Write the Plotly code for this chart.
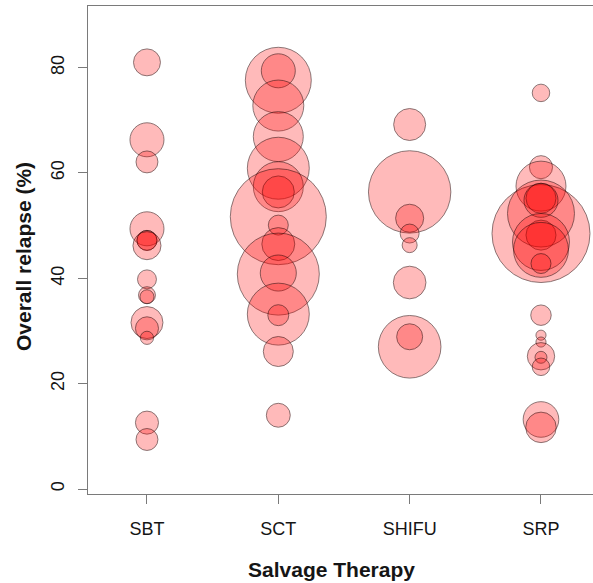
import plotly.graph_objects as go

categories = ["SBT", "SCT", "SHIFU", "SRP"]

sbt_relapse = [81.0, 66.3, 62.1, 49.4, 47.2, 47.2, 46.2, 39.8, 36.8, 36.5, 31.6, 30.5, 28.7, 12.6, 9.4]
sbt_n = [71, 113, 47, 113, 39, 39, 77, 35, 28, 19, 100, 52, 17, 52, 47]

sct_relapse = [77.6, 79.4, 72.8, 66.9, 60.9, 57.4, 56.4, 51.7, 50.1, 46.5, 40.8, 41.0, 33.2, 33.0, 26.1, 14.0]
sct_n = [425, 113, 254, 244, 375, 244, 100, 900, 39, 106, 657, 127, 375, 43, 88, 56]

shifu_relapse = [69.2, 56.4, 51.4, 48.5, 46.3, 39.2, 27.0, 28.9]
shifu_n = [100, 663, 77, 35, 22, 104, 383, 66]

srp_relapse = [75.2, 61.1, 57.5, 48.5, 52.3, 55.2, 54.8, 48.2, 46.9, 45.4, 42.8, 33.0, 29.2, 27.9, 25.2, 25.0, 23.2, 13.2, 11.7]
srp_n = [30, 52, 244, 938, 438, 88, 113, 88, 317, 295, 39, 41, 10, 10, 73, 14, 30, 124, 91]

y_ticks = [0, 20, 40, 60, 80]

groups = [sbt_relapse, sct_relapse, shifu_relapse, srp_relapse]
weights = [sbt_n, sct_n, shifu_n, srp_n]

xs, ys, ns = [], [], []
for i, (g, w) in enumerate(zip(groups, weights)):
    xs += [i + 1] * len(g)
    ys += g
    ns += w

FONT = "Liberation Sans, Arial, sans-serif"

fig = go.Figure()
fig.add_trace(go.Scatter(
    x=xs, y=ys, mode="markers",
    marker=dict(
        size=ns, sizemode="area", sizeref=1 / 5.12,
        color="rgba(255,0,0,0.38)",
        line=dict(color="rgba(30,0,0,0.72)", width=1),
    ),
    showlegend=False, hoverinfo="skip",
))

axis_col = "#7a7a7a"
fig.update_layout(
    width=593, height=583,
    margin=dict(l=88, r=0, t=6, b=89),
    paper_bgcolor="white", plot_bgcolor="white",
    font=dict(family=FONT, size=18, color="#151515"),
    xaxis=dict(
        range=[0.551, 4.396],
        tickvals=[1, 2, 3, 4], ticktext=categories,
        showgrid=False, zeroline=False,
        showline=True, mirror=True, linecolor=axis_col, linewidth=1.2,
        ticks="outside", ticklen=9, tickcolor=axis_col, tickwidth=1.2,
        ticklabelstandoff=9,
        tickfont=dict(size=18, family=FONT, color="#151515"),
    ),
    yaxis=dict(
        range=[-0.95, 91.7],
        tickvals=y_ticks,
        showgrid=False, zeroline=False,
        showline=True, linecolor=axis_col, linewidth=1.2,
        ticks="outside", ticklen=9, tickcolor=axis_col, tickwidth=1.2,
        tickangle=-90, ticklabelstandoff=7,
        tickfont=dict(size=18, family=FONT, color="#151515"),
    ),
    annotations=[
        dict(text="<b>Salvage Therapy</b>", xref="paper", yref="paper",
             x=(331 - 88) / 505, y=(494 - 569) / 488,
             xanchor="center", yanchor="middle", showarrow=False,
             font=dict(size=21, family=FONT, color="#151515")),
        dict(text="<b>Overall relapse (%)</b>", xref="paper", yref="paper",
             x=(23 - 88) / 505, y=(494 - 257) / 488, textangle=-90,
             xanchor="center", yanchor="middle", showarrow=False,
             font=dict(size=21, family=FONT, color="#151515")),
    ],
)

fig.write_html("out.html")
